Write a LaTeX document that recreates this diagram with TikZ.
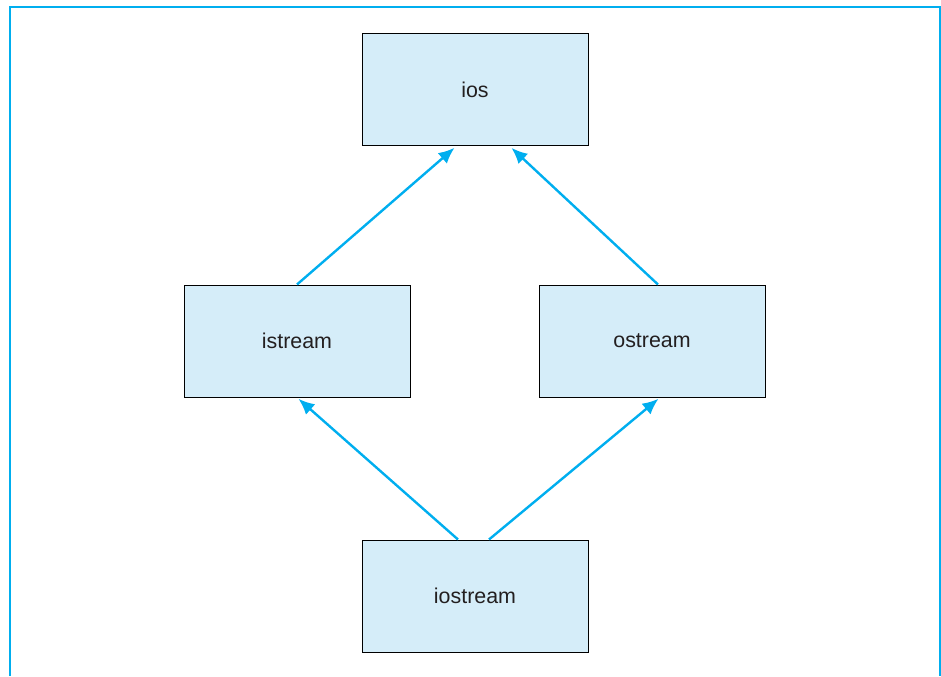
\documentclass[tikz,border=0pt]{standalone}
\usepackage{fontspec}
\setmainfont{Liberation Sans}
\usepackage{xcolor}
\usetikzlibrary{arrows.meta,positioning}

\definecolor{frameblue}{RGB}{0,174,239}
\definecolor{boxfill}{RGB}{213,237,249}
\definecolor{textgray}{RGB}{35,31,32}

\begin{document}
\begin{tikzpicture}[
    every node/.style={font=\fontsize{10.7}{12}\selectfont, text=textgray},
    cls/.style={rectangle, draw=black, line width=0.5pt, fill=boxfill, minimum width=113pt, minimum height=56pt, text centered},
    inherit/.style={draw=frameblue, line width=1.2pt, -{Latex[length=8pt,width=7pt]}, shorten >=1pt}
]
    % Page size and frame
    \useasboundingbox (0,0) rectangle (470.5pt,338pt);
    \draw[frameblue, line width=1.4pt] (5pt,0) -- (5pt,334.5pt) -- (470pt,334.5pt) -- (470pt,0);

    % Base class
    \node[cls] (ios) at (237.5pt,293pt) {ios};

    % Derived classes
    \node[cls, below=69pt of ios, xshift=-89pt] (istream) {istream};
    \node[cls, below=69pt of ios, xshift=88.5pt] (ostream) {ostream};

    % Multiple inheritance
    \node[cls, below=71pt of istream, xshift=89pt] (iostream) {iostream};

    % Arrows
    \draw[inherit] (istream.north) -- ([xshift=-9.5pt]ios.south);
    \draw[inherit] ([xshift=3pt]ostream.north) -- ([xshift=17.5pt]ios.south);
    \draw[inherit] ([xshift=-8.5pt]iostream.north) -- (istream.south);
    \draw[inherit] ([xshift=7pt]iostream.north) -- ([xshift=4pt]ostream.south);
\end{tikzpicture}
\end{document}
